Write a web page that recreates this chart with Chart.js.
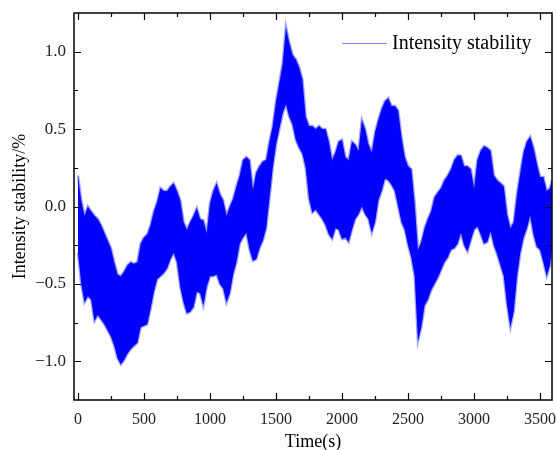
<!DOCTYPE html>
<html>
<head>
<meta charset="utf-8">
<script src="https://cdn.jsdelivr.net/npm/chart.js@4.4.1/dist/chart.umd.min.js"></script>
<style>
  html, body { margin: 0; padding: 0; background: #fff; }
  #wrap { width: 556px; height: 450px; }
</style>
</head>
<body>
<div id="wrap"><canvas id="chart" width="556" height="450"></canvas></div>
<script>
// Sample times (s) and the upper / lower edge of the stability trace (%)
const times = [
    0, 25, 50, 75, 100, 125, 150, 175,
    200, 225, 250, 275, 300, 325, 350, 375,
    400, 425, 450, 475, 500, 525, 550, 575,
    600, 625, 650, 675, 700, 725, 750, 775,
    800, 825, 850, 875, 900, 925, 950, 975,
    1000, 1025, 1050, 1075, 1100, 1125, 1150, 1175,
    1200, 1225, 1250, 1275, 1300, 1325, 1350, 1375,
    1400, 1425, 1450, 1475, 1500, 1525, 1550, 1575,
    1600, 1625, 1650, 1675, 1700, 1725, 1750, 1775,
    1800, 1825, 1850, 1875, 1900, 1925, 1950, 1975,
    2000, 2025, 2050, 2075, 2100, 2125, 2150, 2175,
    2200, 2225, 2250, 2275, 2300, 2325, 2350, 2375,
    2400, 2425, 2450, 2475, 2500, 2525, 2550, 2575,
    2600, 2625, 2650, 2675, 2700, 2725, 2750, 2775,
    2800, 2825, 2850, 2875, 2900, 2925, 2950, 2975,
    3000, 3025, 3050, 3075, 3100, 3125, 3150, 3175,
    3200, 3225, 3250, 3275, 3300, 3325, 3350, 3375,
    3400, 3425, 3450, 3475, 3500, 3525, 3550, 3575,
    3590
];

const upper = [
    0.20, 0.04, -0.06, 0.00, -0.03, -0.06, -0.08, -0.12,
    -0.17, -0.22, -0.27, -0.36, -0.44, -0.45, -0.42, -0.38,
    -0.36, -0.37, -0.36, -0.24, -0.20, -0.18, -0.12, -0.03,
    0.03, 0.12, 0.10, 0.10, 0.13, 0.15, 0.10, 0.04,
    -0.10, -0.15, -0.10, -0.06, -0.01, -0.08, -0.09, -0.17,
    0.02, 0.10, 0.15, 0.08, 0.04, -0.06, 0.00, 0.05,
    0.13, 0.20, 0.30, 0.32, 0.30, 0.11, 0.22, 0.26,
    0.29, 0.30, 0.42, 0.52, 0.68, 0.80, 0.92, 1.16,
    1.06, 0.98, 0.95, 0.90, 0.82, 0.58, 0.52, 0.52,
    0.50, 0.52, 0.50, 0.50, 0.42, 0.30, 0.35, 0.42,
    0.43, 0.32, 0.30, 0.42, 0.40, 0.36, 0.56, 0.50,
    0.40, 0.35, 0.48, 0.56, 0.63, 0.68, 0.70, 0.65,
    0.65, 0.62, 0.45, 0.32, 0.26, 0.24, 0.02, -0.28,
    -0.23, -0.14, -0.08, -0.03, 0.06, 0.09, 0.12, 0.17,
    0.20, 0.24, 0.30, 0.33, 0.33, 0.26, 0.26, 0.24,
    0.12, 0.30, 0.36, 0.39, 0.38, 0.36, 0.20, 0.17,
    0.15, 0.13, -0.05, -0.14, -0.10, 0.08, 0.22, 0.35,
    0.42, 0.45, 0.38, 0.28, 0.19, 0.19, 0.10, 0.12,
    0.17
];

const lower = [
    -0.30, -0.50, -0.62, -0.58, -0.60, -0.74, -0.70, -0.73,
    -0.76, -0.80, -0.84, -0.90, -0.98, -1.02, -0.99, -0.95,
    -0.92, -0.90, -0.88, -0.78, -0.77, -0.76, -0.66, -0.55,
    -0.47, -0.45, -0.43, -0.40, -0.34, -0.30, -0.36, -0.52,
    -0.62, -0.69, -0.68, -0.65, -0.55, -0.56, -0.64, -0.52,
    -0.45, -0.45, -0.44, -0.50, -0.53, -0.62, -0.56, -0.44,
    -0.36, -0.24, -0.20, -0.17, -0.28, -0.35, -0.34, -0.27,
    -0.22, -0.14, 0.05, 0.25, 0.40, 0.50, 0.60, 0.66,
    0.58, 0.53, 0.43, 0.38, 0.34, 0.25, 0.05, -0.04,
    -0.02, -0.05, -0.08, -0.12, -0.18, -0.21, -0.14, -0.15,
    -0.21, -0.20, -0.23, -0.15, -0.08, -0.05, 0.00, -0.05,
    -0.08, -0.17, -0.10, 0.04, 0.10, 0.18, 0.17, 0.14,
    0.10, 0.00, -0.10, -0.15, -0.25, -0.33, -0.45, -0.87,
    -0.78, -0.64, -0.60, -0.54, -0.50, -0.46, -0.41, -0.36,
    -0.33, -0.28, -0.27, -0.24, -0.17, -0.25, -0.29, -0.22,
    -0.15, -0.13, -0.18, -0.24, -0.23, -0.16, -0.25, -0.31,
    -0.38, -0.45, -0.64, -0.78, -0.68, -0.45, -0.30, -0.20,
    -0.14, -0.06, -0.18, -0.26, -0.28, -0.36, -0.45, -0.38,
    -0.27
];

const xTickValues = [0, 500, 1000, 1500, 2000, 2500, 3000, 3500];
const yTickValues = [-1.0, -0.5, 0.0, 0.5, 1.0];

const seriesLabel = 'Intensity stability';
const FONT = '"Liberation Serif", "Times New Roman", serif';

const toPoints = (vals) => vals.map((v, i) => ({ x: times[i], y: v }));

// midpoints between major ticks -> minor tick positions
const minorOf = (vals) => vals.slice(1).map((v, i) => (v + vals[i]) / 2);

// Box frame with inward major/minor ticks on all four sides
const frameTicks = {
    id: 'frameTicks',
    afterDatasetsDraw(chart) {
        const { ctx, chartArea: a, scales: { x, y } } = chart;
        const major = 7, minor = 4;
        ctx.save();
        ctx.strokeStyle = '#000';
        ctx.lineWidth = 1.5;
        ctx.strokeRect(a.left, a.top, a.right - a.left, a.bottom - a.top);
        ctx.lineWidth = 1.2;
        ctx.beginPath();
        const xt = (vals, len) => vals.forEach((v) => {
            const px = Math.round(x.getPixelForValue(v)) + 0.5;
            ctx.moveTo(px, a.bottom); ctx.lineTo(px, a.bottom - len);
            ctx.moveTo(px, a.top); ctx.lineTo(px, a.top + len);
        });
        const yt = (vals, len) => vals.forEach((v) => {
            const py = Math.round(y.getPixelForValue(v)) + 0.5;
            ctx.moveTo(a.left, py); ctx.lineTo(a.left + len, py);
            ctx.moveTo(a.right, py); ctx.lineTo(a.right - len, py);
        });
        xt(xTickValues, major);
        xt(minorOf(xTickValues), minor);
        yt(yTickValues, major);
        yt(minorOf(yTickValues), minor);
        ctx.stroke();
        ctx.restore();
    }
};

// Legend entry drawn inside the plot, top right
const innerLegend = {
    id: 'innerLegend',
    afterDraw(chart) {
        const { ctx, chartArea: a } = chart;
        const ds = chart.data.datasets[0];
        const yy = a.top + 30.5;
        ctx.save();
        ctx.strokeStyle = '#8282ff';
        ctx.lineWidth = 1;
        ctx.beginPath();
        ctx.moveTo(a.right - 210, yy);
        ctx.lineTo(a.right - 165, yy);
        ctx.stroke();
        ctx.fillStyle = '#000';
        ctx.font = '20px ' + FONT;
        ctx.textBaseline = 'middle';
        ctx.textAlign = 'left';
        ctx.fillText(ds.label, a.right - 160, yy);
        ctx.restore();
    }
};

const edge = 'rgba(20, 20, 255, 0.4)';

new Chart(document.getElementById('chart'), {
    type: 'line',
    data: {
        datasets: [
            {
                label: seriesLabel,
                data: toPoints(upper),
                borderColor: edge,
                borderWidth: 2.5,
                backgroundColor: '#0000ff',
                fill: '+1',
                pointRadius: 0,
                tension: 0
            },
            {
                label: seriesLabel + ' (low)',
                data: toPoints(lower),
                borderColor: edge,
                borderWidth: 2.5,
                fill: false,
                pointRadius: 0,
                tension: 0
            }
        ]
    },
    options: {
        responsive: false,
        animation: false,
        devicePixelRatio: 1,
        layout: { padding: { top: 13, right: 4, left: 0, bottom: 0 } },
        plugins: {
            legend: { display: false },
            tooltip: { enabled: false }
        },
        scales: {
            x: {
                type: 'linear',
                min: -30,
                max: 3590,
                grid: { display: false, drawTicks: false },
                border: { display: false },
                afterBuildTicks: (scale) => {
                    scale.ticks = xTickValues.map((v) => ({ value: v }));
                },
                afterFit: (scale) => {
                    scale.height = 50;
                    scale.paddingLeft = 0;
                    scale.paddingRight = 0;
                },
                ticks: {
                    padding: 10,
                    maxRotation: 0,
                    color: '#222',
                    font: { family: FONT, size: 16 },
                    callback: (v) => String(v)
                },
                title: {
                    display: true,
                    text: 'Time(s)',
                    color: '#000',
                    padding: { top: 0, bottom: -3 },
                    font: { family: FONT, size: 18 }
                }
            },
            y: {
                min: -1.25,
                max: 1.25,
                grid: { display: false, drawTicks: false },
                border: { display: false },
                afterBuildTicks: (scale) => {
                    scale.ticks = yTickValues.map((v) => ({ value: v }));
                },
                afterFit: (scale) => {
                    scale.width = 74;
                    scale.paddingTop = 0;
                    scale.paddingBottom = 0;
                },
                ticks: {
                    padding: 8,
                    color: '#222',
                    font: { family: FONT, size: 17 },
                    callback: (v) => Number(v).toFixed(1).replace('-', '\u2212')
                },
                title: {
                    display: true,
                    text: 'Intensity stability/%',
                    color: '#000',
                    padding: { top: 9, bottom: 0 },
                    font: { family: FONT, size: 18 }
                }
            }
        }
    },
    plugins: [frameTicks, innerLegend]
});
</script>
</body>
</html>
